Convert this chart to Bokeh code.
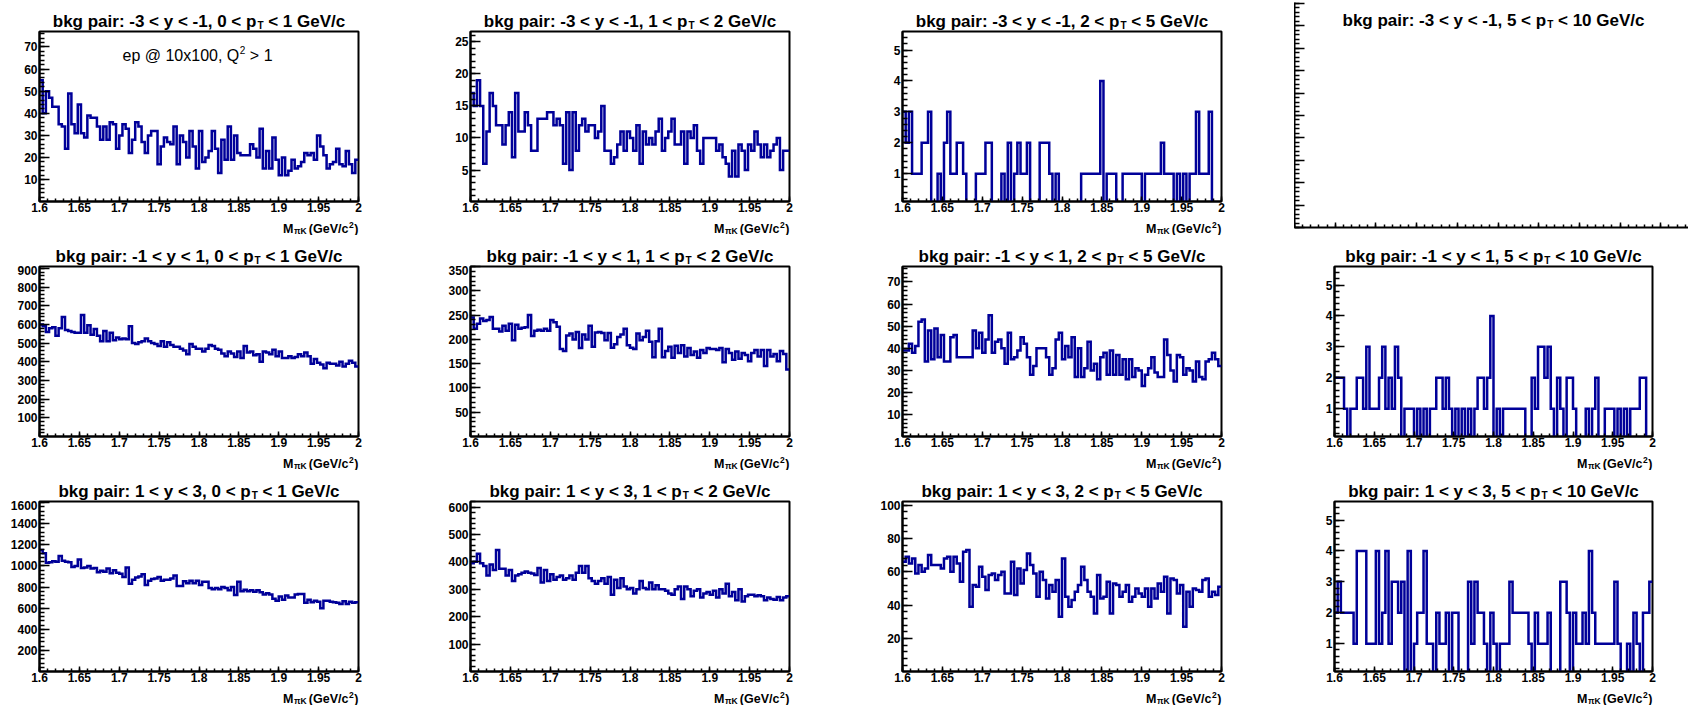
from bokeh.plotting import figure
from bokeh.models import Range1d, FixedTicker, Label
from bokeh.layouts import row, column
from bokeh.embed import file_html
from bokeh.resources import INLINE

# ---------------- data ----------------
bin_edges = [round(1.6 + 0.004 * i, 4) for i in range(101)]

x_ticks = [1.6, 1.65, 1.7, 1.75, 1.8, 1.85, 1.9, 1.95, 2.0]
x_tick_labels = ["1.6", "1.65", "1.7", "1.75", "1.8", "1.85", "1.9", "1.95", "2"]

rap_labels = ["-3 < y < -1", "-1 < y < 1", "1 < y < 3"]
pt_lows = ["0", "1", "2", "5"]
pt_highs = ["1", "2", "5", "10"]
y_tick_steps = [[10, 5, 1, None], [100, 50, 10, 1], [200, 100, 20, 1]]

counts_ym3_pt0 = [55, 40, 50, 47, 43, 43, 35, 34, 24, 49,
                  35, 31, 44, 31, 29, 39, 38, 38, 34, 28,
                  34, 28, 36, 35, 24, 30, 35, 33, 22, 28,
                  36, 34, 27, 22, 30, 32, 32, 17, 25, 29,
                  27, 26, 34, 17, 30, 27, 20, 32, 25, 15,
                  32, 18, 20, 23, 32, 24, 13, 28, 19, 34,
                  19, 30, 22, 21, 21, 21, 26, 24, 20, 33,
                  15, 23, 15, 29, 19, 12, 20, 12, 14, 19,
                  15, 16, 18, 22, 21, 22, 19, 30, 25, 21,
                  15, 17, 18, 24, 17, 16, 23, 17, 13, 19]
counts_ym3_pt1 = [17, 15, 19, 15, 6, 11, 17, 15, 12, 12,
                  9, 12, 14, 7, 17, 11, 11, 14, 12, 8,
                  8, 13, 13, 13, 14, 14, 12, 13, 12, 6,
                  14, 5, 14, 8, 12, 13, 11, 12, 12, 10,
                  11, 15, 8, 8, 6, 7, 9, 11, 8, 11,
                  10, 8, 12, 6, 11, 9, 10, 9, 11, 13,
                  8, 10, 11, 13, 9, 9, 11, 6, 11, 10,
                  12, 8, 6, 10, 10, 10, 10, 8, 9, 7,
                  6, 4, 8, 4, 9, 8, 5, 9, 8, 11,
                  9, 7, 9, 7, 8, 9, 10, 5, 8, 8]
counts_ym3_pt2 = [3, 2, 3, 1, 1, 1, 2, 2, 3, 0,
                  0, 1, 0, 2, 3, 1, 1, 2, 2, 1,
                  0, 0, 0, 1, 1, 1, 2, 2, 0, 0,
                  0, 1, 0, 2, 0, 1, 2, 1, 1, 2,
                  0, 0, 0, 2, 2, 2, 1, 0, 1, 0,
                  0, 0, 0, 0, 0, 0, 1, 1, 1, 1,
                  1, 1, 4, 0, 1, 1, 1, 0, 0, 1,
                  1, 1, 1, 1, 1, 0, 1, 1, 1, 1,
                  1, 2, 1, 1, 1, 0, 1, 0, 1, 0,
                  1, 1, 3, 1, 1, 1, 3, 0, 0, 0]
counts_ym1_pt0 = [600, 590, 560, 580, 585, 540, 580, 640, 570, 565,
                  560, 555, 555, 650, 555, 595, 545, 575, 540, 510,
                  565, 510, 555, 515, 530, 520, 525, 520, 590, 500,
                  495, 505, 510, 525, 510, 500, 495, 485, 510, 480,
                  505, 490, 480, 480, 470, 460, 440, 495, 480, 470,
                  470, 455, 470, 490, 485, 470, 465, 445, 430, 455,
                  445, 425, 455, 420, 485, 450, 455, 435, 440, 400,
                  455, 450, 440, 465, 430, 455, 420, 420, 430, 420,
                  425, 440, 430, 450, 430, 390, 415, 395, 385, 365,
                  395, 390, 390, 380, 400, 375, 390, 405, 395, 375]
counts_ym1_pt1 = [245, 222, 232, 243, 238, 240, 246, 222, 222, 216,
                  228, 218, 232, 198, 230, 222, 224, 225, 250, 207,
                  218, 220, 218, 222, 218, 240, 235, 226, 180, 176,
                  208, 212, 200, 215, 182, 210, 200, 228, 185, 214,
                  215, 213, 198, 213, 183, 190, 205, 210, 222, 188,
                  183, 180, 212, 198, 205, 218, 195, 163, 196, 222,
                  163, 176, 185, 162, 187, 172, 188, 165, 182, 168,
                  175, 162, 178, 172, 182, 180, 180, 178, 182, 153,
                  180, 172, 158, 175, 160, 172, 168, 155, 172, 178,
                  165, 178, 145, 178, 165, 170, 155, 176, 170, 138]
counts_ym1_pt2 = [39, 39, 42, 38, 41, 52, 53, 34, 48, 35,
                  49, 36, 46, 34, 34, 45, 46, 36, 36, 36,
                  36, 36, 48, 40, 47, 38, 44, 55, 38, 43,
                  44, 40, 33, 47, 35, 36, 39, 45, 42, 36,
                  28, 32, 40, 40, 40, 36, 28, 31, 44, 47,
                  35, 41, 36, 45, 27, 40, 27, 31, 43, 30,
                  33, 26, 36, 38, 28, 39, 28, 37, 28, 35,
                  26, 35, 27, 31, 30, 23, 28, 31, 36, 29,
                  27, 27, 44, 37, 30, 25, 37, 36, 28, 31,
                  30, 25, 34, 27, 26, 34, 35, 38, 35, 32]
counts_ym1_pt3 = [2, 2, 2, 1, 0, 1, 1, 2, 2, 1,
                  3, 1, 1, 1, 2, 3, 1, 2, 1, 3,
                  2, 0, 1, 1, 1, 0, 1, 0, 1, 0,
                  1, 1, 2, 2, 1, 2, 1, 0, 1, 0,
                  1, 0, 1, 0, 1, 2, 2, 1, 2, 4,
                  0, 1, 0, 1, 1, 1, 1, 1, 1, 1,
                  0, 0, 2, 1, 3, 3, 2, 3, 1, 0,
                  2, 1, 0, 2, 2, 1, 0, 0, 0, 1,
                  0, 1, 2, 0, 0, 1, 1, 1, 0, 1,
                  0, 1, 0, 1, 1, 1, 2, 2, 0, 0]
counts_y1_pt0 = [1150, 1120, 1030, 1035, 1045, 1040, 1095, 1050, 1040, 1035,
                 990, 1000, 1060, 980, 985, 1000, 975, 980, 940, 955,
                 945, 975, 930, 960, 935, 925, 895, 985, 830, 870,
                 890, 900, 920, 820, 860, 875, 880, 895, 860, 870,
                 870, 880, 910, 810, 810, 855, 835, 860, 835, 860,
                 820, 850, 850, 790, 780, 790, 780, 800, 790, 770,
                 800, 725, 850, 760, 775, 760, 770, 755, 770, 750,
                 730, 740, 730, 690, 670, 710, 680, 720, 700, 700,
                 730, 735, 735, 650, 680, 655, 670, 660, 600, 670,
                 670, 660, 655, 650, 640, 665, 640, 660, 650, 655]
counts_y1_pt1 = [395, 400, 430, 395, 385, 350, 390, 370, 443, 375,
                 375, 350, 370, 330, 350, 355, 360, 365, 360, 358,
                 352, 378, 325, 370, 330, 355, 335, 345, 350, 335,
                 340, 350, 335, 360, 385, 360, 385, 340, 330, 320,
                 330, 340, 320, 345, 280, 335, 305, 340, 310, 300,
                 305, 285, 300, 330, 305, 300, 325, 300, 315, 300,
                 300, 295, 285, 280, 300, 310, 265, 310, 300, 275,
                 295, 300, 270, 285, 290, 280, 295, 270, 300, 285,
                 320, 275, 290, 260, 300, 255, 275, 280, 280, 275,
                 278, 275, 260, 270, 265, 262, 272, 260, 270, 275]
counts_y1_pt2 = [66, 69, 65, 68, 59, 64, 60, 62, 70, 64,
                 64, 64, 62, 68, 69, 60, 69, 65, 54, 72,
                 73, 39, 52, 51, 63, 57, 49, 58, 59, 55,
                 58, 60, 47, 47, 66, 46, 62, 53, 61, 71,
                 64, 59, 45, 60, 55, 44, 52, 48, 55, 33,
                 68, 45, 39, 43, 48, 52, 63, 55, 48, 45,
                 35, 58, 44, 45, 54, 35, 53, 52, 45, 48,
                 52, 42, 45, 50, 47, 45, 50, 39, 50, 44,
                 53, 48, 57, 35, 56, 55, 47, 52, 27, 48,
                 39, 50, 49, 48, 55, 56, 45, 48, 46, 51]
counts_y1_pt3 = [2, 3, 2, 2, 2, 2, 1, 4, 4, 4,
                 1, 1, 1, 4, 1, 2, 4, 1, 3, 3,
                 2, 3, 0, 4, 0, 1, 2, 2, 4, 1,
                 1, 0, 2, 1, 1, 2, 0, 2, 2, 0,
                 0, 0, 3, 1, 3, 2, 2, 1, 0, 2,
                 1, 0, 1, 1, 1, 3, 2, 2, 2, 2,
                 2, 1, 0, 2, 1, 1, 1, 2, 0, 0,
                 0, 3, 3, 2, 0, 2, 1, 1, 2, 1,
                 4, 2, 1, 1, 1, 1, 1, 1, 3, 1,
                 0, 0, 1, 0, 2, 1, 0, 2, 2, 3]

panel_counts = [
    [counts_ym3_pt0, counts_ym3_pt1, counts_ym3_pt2, None],
    [counts_ym1_pt0, counts_ym1_pt1, counts_ym1_pt2, counts_ym1_pt3],
    [counts_y1_pt0, counts_y1_pt1, counts_y1_pt2, counts_y1_pt3],
]

# ---------------- style / layout ----------------
FONT = "Liberation Sans"
LINE_COLOR = "#000099"
PAD_H = 235
PAD_W = [431, 432, 431, 394]
FRAME_L = [39, 39, 39, 40]
FRAME_W = [319, 319, 319, 318]
TITLE_H = 30          # strip holding the title (pad y 0..30)
PLOT_TOP = 1          # frame top at pad y 31
FRAME_H = 170         # frame 31..201
PLOT_BOT = 14         # tick labels, pad y 201..215
XT_H = PAD_H - TITLE_H - PLOT_TOP - FRAME_H - PLOT_BOT   # 20, x-title strip

TITLE_SIZE = 17
TITLE_SUB = 10
TICK_SIZE = "12px"

BOLD_W = {' ': 278, ',': 278, '-': 333, '.': 278, '/': 278, ':': 333, '<': 584, '>': 584,
          '(': 333, ')': 333, 'G': 778, 'K': 722, 'M': 833, 'T': 611, 'V': 667,
          'a': 556, 'b': 611, 'c': 556, 'e': 556, 'g': 611, 'i': 278, 'k': 556, 'p': 611,
          'r': 389, 'y': 556, '\u03c0': 610}
REG_W = {' ': 278, ',': 278, '@': 1015, 'Q': 778, 'e': 556, 'p': 556, 'x': 500, '>': 584}


def tw(s, size, table):
    return sum(table.get(c, 556) for c in s) * size / 1000.0


def add_label(p, x, y, text, size, style="bold"):
    p.add_layout(Label(x=x, y=y, x_units="screen", y_units="screen", text=text,
                       text_font=FONT, text_font_size=f"{size}px", text_font_style=style,
                       text_align="left", text_baseline="alphabetic", text_color="black"))


def add_title(p, cx, base_y, rap, ptlo, pthi):
    size, ssize = TITLE_SIZE, TITLE_SUB
    s1 = f"bkg pair: {rap}, {ptlo} < p"
    s3 = f"< {pthi} GeV/c"
    w1 = tw(s1, size, BOLD_W)
    wT = tw("T", ssize, BOLD_W)
    wsp = tw(" ", size, BOLD_W)
    w3 = tw(s3, size, BOLD_W)
    gap = 1.0
    x0 = cx - (w1 + gap + wT + wsp + w3) / 2.0
    add_label(p, x0, base_y, s1, size)
    add_label(p, x0 + w1 + gap, base_y - 4, "T", ssize)
    add_label(p, x0 + w1 + gap + wT + wsp, base_y, s3, size)


def add_xtitle(p, right_x, base_y):
    size, ssize = 12.5, 8.5
    gap = 0.6
    wM = tw("M", size, BOLD_W)
    wsub = tw("\u03c0K", ssize, BOLD_W)
    wsp = tw(" ", size, BOLD_W)
    wmid = tw("(GeV/c", size, BOLD_W)
    wsup = tw("2", ssize, BOLD_W)
    wend = tw(")", size, BOLD_W)
    x0 = right_x - (wM + gap + wsub + wsp + wmid + gap + wsup + gap + wend)
    add_label(p, x0, base_y, "M", size)
    add_label(p, x0 + wM + gap, base_y - 2.5, "\u03c0K", ssize)
    xm = x0 + wM + gap + wsub + wsp
    add_label(p, xm, base_y, "(GeV/c", size)
    add_label(p, xm + wmid + gap, base_y + 4, "2", ssize)
    add_label(p, xm + wmid + gap + wsup + gap, base_y, ")", size)


def text_strip(W, H):
    s = figure(width=W, height=H, x_range=Range1d(0, W), y_range=Range1d(0, H),
               output_backend="svg", toolbar_location=None, title=None,
               x_axis_location=None, y_axis_location=None, frame_align=False,
               min_border=0, min_border_left=0, min_border_right=0,
               min_border_top=0, min_border_bottom=0)
    s.grid.visible = False
    s.outline_line_color = None
    s.background_fill_color = "white"
    s.border_fill_color = "white"
    return s


def style_axes(p, yt_major, yt_minor, ylabels, xmaj, xmin, xlab, show_labels=True):
    p.xaxis.ticker = FixedTicker(ticks=xmaj, minor_ticks=xmin)
    p.yaxis.ticker = FixedTicker(ticks=yt_major, minor_ticks=yt_minor)
    if xlab is not None:
        p.xaxis.major_label_overrides = dict(zip(xmaj, xlab))
    if ylabels is not None:
        p.yaxis.major_label_overrides = dict(zip(yt_major, ylabels))
    for ax in (p.xaxis[0], p.yaxis[0]):
        ax.axis_line_color = "black"
        ax.axis_line_width = 2
        ax.major_tick_out = 0
        ax.minor_tick_out = 0
        ax.major_tick_line_color = "black"
        ax.minor_tick_line_color = "black"
        ax.major_tick_line_width = 1.5
        ax.minor_tick_line_width = 1.5
        ax.major_label_text_font = FONT
        ax.major_label_text_font_style = "bold"
        if show_labels:
            ax.major_label_text_color = "black"
            ax.major_label_text_font_size = TICK_SIZE
        else:
            ax.major_label_text_color = None
            ax.major_label_text_font_size = "1px"
    p.xaxis.major_tick_in = 5
    p.xaxis.minor_tick_in = 3
    p.yaxis.major_tick_in = 10
    p.yaxis.minor_tick_in = 5
    p.xaxis.major_label_standoff = 1 if show_labels else 0
    p.yaxis.major_label_standoff = 2 if show_labels else 0


x_minor = [round(1.6 + 0.01 * k, 3) for k in range(41)]

rows = []
for r in range(3):
    pads = []
    for c in range(4):
        vals = panel_counts[r][c]
        W = PAD_W[c]
        if vals is None:
            # empty histogram pad: frame from pad y 2 to 227, starting at the pad's left edge
            B, T = 8, 2
            FH = PAD_H - B - T
            xe = W / 40.7
            ye = FH / 22.4
            p = figure(width=W, height=PAD_H, x_range=Range1d(0, xe), y_range=Range1d(0, ye),
                       output_backend="svg", toolbar_location=None, title=None, frame_align=False,
                       min_border_left=0, min_border_right=0, min_border_top=T, min_border_bottom=B)
            p.grid.visible = False
            p.outline_line_color = None
            p.background_fill_color = "white"
            p.border_fill_color = "white"
            xmaj = list(range(0, int(xe) + 1))
            xmn = [round(0.2 * k, 2) for k in range(int(xe * 5) + 1)]
            ymaj = list(range(0, int(ye) + 1))
            ymn = [round(0.2 * k, 2) for k in range(int(ye * 5) + 1)]
            style_axes(p, ymaj, ymn, None, xmaj, xmn, None, show_labels=False)
            add_title(p, 199, FH - 18, rap_labels[r], pt_lows[c], pt_highs[c])
            pads.append(p)
            continue

        L = FRAME_L[c]
        FW = FRAME_W[c]
        R = W - L - FW

        # title strip
        ts = text_strip(W, TITLE_H)
        add_title(ts, L + FW / 2.0, 9.5, rap_labels[r], pt_lows[c], pt_highs[c])

        # histogram frame
        ytop = 1.4 * max(vals)
        ybot = 0.1
        p = figure(width=W, height=PLOT_TOP + FRAME_H + PLOT_BOT,
                   x_range=Range1d(1.6, 2.0), y_range=Range1d(ybot, ytop),
                   output_backend="svg", toolbar_location=None, title=None, frame_align=False,
                   min_border_left=L, min_border_right=R, min_border_top=PLOT_TOP,
                   min_border_bottom=PLOT_BOT)
        p.grid.visible = False
        p.outline_line_color = "black"
        p.outline_line_width = 2
        p.background_fill_color = "white"
        p.border_fill_color = "white"
        step = y_tick_steps[r][c]
        ymaj = [step * k for k in range(1, int(ytop / step) + 1)]
        sub = step / 5.0
        ymn = [round(sub * k, 6) for k in range(1, int(ytop / sub) + 1)]
        style_axes(p, ymaj, ymn, [str(v) for v in ymaj], x_ticks, x_minor, x_tick_labels)
        p.step(x=bin_edges, y=vals + [vals[-1]], mode="after",
               line_color=LINE_COLOR, line_width=2.5, line_join="miter")
        if r == 0 and c == 0:
            s1 = "ep @ 10x100, Q"
            x0, y0 = 83, FRAME_H - 24
            w1 = tw(s1, 16, REG_W)
            w2 = tw("2", 10, REG_W)
            wsp = tw(" ", 16, REG_W)
            add_label(p, x0, y0, s1, 16, style="normal")
            add_label(p, x0 + w1 + 0.6, y0 + 6, "2", 10, style="normal")
            add_label(p, x0 + w1 + 0.6 + w2 + wsp, y0, "> 1", 16, style="normal")

        # x-title strip
        xs = text_strip(W, XT_H)
        add_xtitle(xs, L + FW, 7)

        pads.append(column(ts, p, xs, spacing=0))
    rows.append(row(*pads, spacing=0))

layout = column(*rows, spacing=0)

open("out.html", "w").write(file_html(layout, INLINE))
